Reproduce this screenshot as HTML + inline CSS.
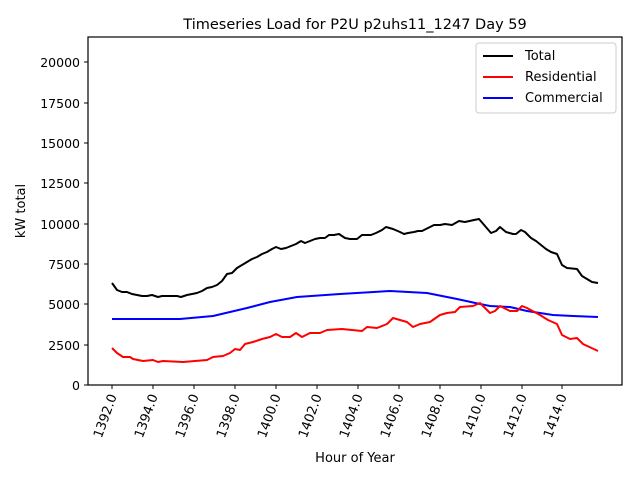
<!DOCTYPE html>
<html><head><meta charset="utf-8"><style>body{margin:0;background:#fff}svg{display:block;font-family:"DejaVu Sans","Liberation Sans",sans-serif}</style></head>
<body>
<svg width="640" height="480" viewBox="0 0 640 480" xmlns="http://www.w3.org/2000/svg">
<rect width="640" height="480" fill="#fff"/>
<text x="355" y="29" font-size="14.5" text-anchor="middle">Timeseries Load for P2U p2uhs11_1247  Day 59</text>
<g fill="none" stroke-width="2" stroke-linejoin="round">
<polyline stroke="#000" points="112,283 117,290 122,292 127,292 132,294 137,295 142,296 147,296 152,295 158,297 162,296 167,296 172,296 177,296 181,297 187,295 192,294 197,293 202,291 207,288 212,287 217,285 222,281 227,274 232,273 237,268 242,265 247,262 252,259 257,257 262,254 267,252 272,249 276,247 281,249 286,248 291,246 296,244 301,241 305,243 310,241 315,239 320,238 325,238 329,235 334,235 339,234 345,238 350,239 357,239 362,235 371,235 376,233 382,230 386,227 393,229 400,232 404,234 408,233 414,232 418,231 422,231 428,228 434,225 440,225 445,224 452,225 459,221 465,222 474,220 479,219 485,226 491,233 496,231 500,227 506,232 513,234 516,234 521,230 525,232 531,238 536,241 541,245 546,249 551,252 557,254 562,265 567,268 577,269 582,276 592,282 598,283"/>
<polyline stroke="#0000ff" points="112,319 180,319 213,316 230,312 247,308 270,302 297,297 340,294 390,291 427,293 457,299 480,304 490,306 510,307 527,311 553,315 573,316 598,317"/>
<polyline stroke="#ff0000" points="112,348 117,353 123,357 130,357 133,359 143,361 153,360 158,362 163,361 183,362 207,360 213,357 223,356 230,353 235,349 240,350 245,344 253,342 262,339 270,337 276,334 282,337 290,337 296,333 302,337 310,333 320,333 327,330 342,329 362,331 367,327 377,328 387,324 393,318 407,322 413,327 420,324 430,322 440,315 447,313 455,312 460,307 473,306 480,303 490,313 495,311 500,306 510,311 517,311 522,306 527,308 540,315 548,320 557,324 562,335 570,339 577,338 583,344 598,351"/>
</g>
<rect x="88" y="37" width="534" height="348" fill="none" stroke="#000" stroke-width="1.2"/>
<g stroke="#000" stroke-width="1">
<line x1="84" y1="385" x2="88" y2="385"/><line x1="84" y1="345" x2="88" y2="345"/><line x1="84" y1="304" x2="88" y2="304"/><line x1="84" y1="264" x2="88" y2="264"/><line x1="84" y1="224" x2="88" y2="224"/><line x1="84" y1="183" x2="88" y2="183"/><line x1="84" y1="143" x2="88" y2="143"/><line x1="84" y1="103" x2="88" y2="103"/><line x1="84" y1="62" x2="88" y2="62"/>
<line x1="112" y1="385" x2="112" y2="389"/><line x1="153" y1="385" x2="153" y2="389"/><line x1="194" y1="385" x2="194" y2="389"/><line x1="235" y1="385" x2="235" y2="389"/><line x1="276" y1="385" x2="276" y2="389"/><line x1="317" y1="385" x2="317" y2="389"/><line x1="358" y1="385" x2="358" y2="389"/><line x1="399" y1="385" x2="399" y2="389"/><line x1="440" y1="385" x2="440" y2="389"/><line x1="481" y1="385" x2="481" y2="389"/><line x1="522" y1="385" x2="522" y2="389"/><line x1="562" y1="385" x2="562" y2="389"/>
</g>
<g font-size="12.5" text-anchor="end">
<text x="80" y="390">0</text><text x="80" y="350">2500</text><text x="80" y="309">5000</text><text x="80" y="269">7500</text><text x="80" y="229">10000</text><text x="80" y="188">12500</text><text x="80" y="148">15000</text><text x="80" y="108">17500</text><text x="80" y="67">20000</text>
</g>
<g font-size="13" text-anchor="end">
<text transform="translate(117,396) rotate(-70)">1392.0</text>
<text transform="translate(158,396) rotate(-70)">1394.0</text>
<text transform="translate(199,396) rotate(-70)">1396.0</text>
<text transform="translate(240,396) rotate(-70)">1398.0</text>
<text transform="translate(281,396) rotate(-70)">1400.0</text>
<text transform="translate(322,396) rotate(-70)">1402.0</text>
<text transform="translate(363,396) rotate(-70)">1404.0</text>
<text transform="translate(404,396) rotate(-70)">1406.0</text>
<text transform="translate(445,396) rotate(-70)">1408.0</text>
<text transform="translate(486,396) rotate(-70)">1410.0</text>
<text transform="translate(527,396) rotate(-70)">1412.0</text>
<text transform="translate(567,396) rotate(-70)">1414.0</text>
</g>
<text x="355" y="462" font-size="13" text-anchor="middle">Hour of Year</text>
<text transform="translate(25,211) rotate(-90)" font-size="13" text-anchor="middle">kW total</text>
<rect x="476" y="43" width="140" height="70" rx="3" fill="#fff" stroke="#ccc" stroke-width="1"/>
<g stroke-width="2"><line x1="483" y1="56" x2="513" y2="56" stroke="#000"/><line x1="483" y1="77" x2="513" y2="77" stroke="#ff0000"/><line x1="483" y1="98" x2="513" y2="98" stroke="#0000ff"/></g>
<g font-size="13"><text x="525" y="60">Total</text><text x="525" y="81">Residential</text><text x="525" y="102">Commercial</text></g>
</svg>
</body></html>
